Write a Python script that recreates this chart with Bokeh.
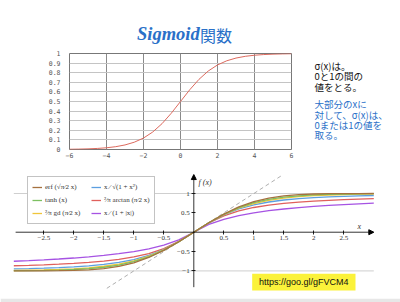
from bokeh.plotting import figure
from bokeh.layouts import column, row
from bokeh.models import (Range1d, FixedTicker, NumeralTickFormatter, Label, Legend,
                          LegendItem, Arrow, NormalHead, BoxAnnotation)
from bokeh.embed import file_html
from bokeh.resources import INLINE

# ---------------- data ----------------
# top chart: logistic sigmoid
sig_x = [-6, -5.5, -5, -4.5, -4, -3.5, -3, -2.5, -2, -1.5, -1, -0.5, 0,
         0.5, 1, 1.5, 2, 2.5, 3, 3.5, 4, 4.5, 5, 5.5, 6]
sig_y = [0.0025, 0.0041, 0.0067, 0.0110, 0.0180, 0.0293, 0.0474, 0.0759, 0.1192,
         0.1824, 0.2689, 0.3775, 0.5, 0.6225, 0.7311, 0.8176, 0.8808, 0.9241,
         0.9526, 0.9707, 0.9820, 0.9890, 0.9933, 0.9959, 0.9975]
sig_xticks = [-6, -4, -2, 0, 2, 4, 6]
sig_yticks = [0, 0.1, 0.2, 0.3, 0.4, 0.5, 0.6, 0.7, 0.8, 0.9, 1]

# bottom chart: comparison of sigmoid-like functions
cmp_x = [-3, -2.75, -2.5, -2.25, -2, -1.75, -1.5, -1.25, -1, -0.75, -0.5, -0.25, 0,
         0.25, 0.5, 0.75, 1, 1.25, 1.5, 1.75, 2, 2.25, 2.5, 2.75, 3]
erf_y = [-1.000, -0.999, -0.998, -0.995, -0.988, -0.972, -0.939, -0.883, -0.790,
         -0.653, -0.469, -0.246, 0, 0.246, 0.469, 0.653, 0.790, 0.883, 0.939,
         0.972, 0.988, 0.995, 0.998, 0.999, 1.000]
tanh_y = [-0.995, -0.992, -0.987, -0.978, -0.964, -0.941, -0.905, -0.848, -0.762,
          -0.635, -0.462, -0.245, 0, 0.245, 0.462, 0.635, 0.762, 0.848, 0.905,
          0.941, 0.964, 0.978, 0.987, 0.992, 0.995]
gd_y = [-0.989, -0.983, -0.975, -0.962, -0.945, -0.919, -0.880, -0.822, -0.739,
        -0.620, -0.455, -0.244, 0, 0.244, 0.455, 0.620, 0.739, 0.822, 0.880,
        0.919, 0.945, 0.962, 0.975, 0.983, 0.989]
alg_y = [-0.949, -0.940, -0.928, -0.914, -0.894, -0.868, -0.832, -0.781, -0.707,
         -0.600, -0.447, -0.243, 0, 0.243, 0.447, 0.600, 0.707, 0.781, 0.832,
         0.868, 0.894, 0.914, 0.928, 0.940, 0.949]
atan_y = [-0.867, -0.856, -0.842, -0.825, -0.804, -0.778, -0.745, -0.700, -0.639,
          -0.552, -0.424, -0.238, 0, 0.238, 0.424, 0.552, 0.639, 0.700, 0.745,
          0.778, 0.804, 0.825, 0.842, 0.856, 0.867]
abs_y = [-0.750, -0.733, -0.714, -0.692, -0.667, -0.636, -0.600, -0.556, -0.500,
         -0.429, -0.333, -0.200, 0, 0.200, 0.333, 0.429, 0.500, 0.556, 0.600,
         0.636, 0.667, 0.692, 0.714, 0.733, 0.750]
diag_x = [-1.45, 1.47]
diag_y = [-1.45, 1.47]
ref_levels = [-1, 1]
cmp_xticks = [-2.5, -2, -1.5, -1, -0.5, 0.5, 1, 1.5, 2, 2.5]
cmp_yticks = [-1, -0.5, 0.5, 1]

labels = {
    "erf": "erf (√π⁄2 x)",
    "tanh": "tanh (x)",
    "gd": "²⁄π gd (π⁄2 x)",
    "alg": "x ⁄ √(1 + x²)",
    "atan": "²⁄π arctan (π⁄2 x)",
    "abs": "x ⁄ (1 + |x|)",
}
colors = {
    "erf": "#a5713f", "tanh": "#7dc062", "gd": "#f0c53a",
    "alg": "#5c9fe0", "atan": "#e0605c", "abs": "#a653e3",
}

BLUE = "#2a70c8"
SERIF = "Liberation Serif"
JP = "Noto Sans CJK JP"


def blank(w, h, xr, yr):
    f = figure(width=w, height=h, x_range=Range1d(*xr), y_range=Range1d(*yr),
               x_axis_type=None, y_axis_type=None, toolbar_location=None,
               output_backend="svg", min_border=0)
    f.outline_line_color = None
    f.grid.visible = False
    return f


# ---------------- title ----------------
tfig = blank(400, 46, (0, 400), (46, 0))
tfig.add_layout(Label(x=136.5, y=33, text="Sigmoid", text_font=SERIF,
                      text_font_style="bold italic", text_font_size="18.5px",
                      text_color=BLUE, text_baseline="alphabetic", text_align="left"))
tfig.add_layout(Label(x=199.5, y=34, text="関数", text_font=JP,
                      text_font_size="16px", text_color=BLUE,
                      text_baseline="alphabetic", text_align="left"))

# ---------------- top sigmoid chart ----------------
p1 = figure(width=300, height=119, x_range=Range1d(-6, 6), y_range=Range1d(0, 1),
            toolbar_location=None, output_backend="svg",
            min_border_left=69, min_border_right=9, min_border_top=7,
            min_border_bottom=16)
p1.line(sig_x, sig_y, line_color="#dc6a5e", line_width=1)
p1.xaxis.ticker = FixedTicker(ticks=sig_xticks)
p1.yaxis.ticker = FixedTicker(ticks=sig_yticks)
p1.yaxis.formatter = NumeralTickFormatter(format="0.[0]")
p1.xgrid.ticker = FixedTicker(ticks=sig_xticks)
p1.ygrid.ticker = FixedTicker(ticks=sig_yticks)
p1.xgrid.grid_line_color = "#8a8a8a"
p1.ygrid.grid_line_color = "#c4c4c4"
p1.outline_line_color = "#777777"
for ax in (p1.xaxis[0], p1.yaxis[0]):
    ax.axis_line_color = None
    ax.major_tick_out = 0
    ax.major_tick_in = 0
    ax.minor_tick_line_color = None
    ax.major_label_text_font = "DejaVu Sans Mono"
    ax.major_label_text_font_size = "6.5px"
    ax.major_label_text_color = "#555555"
p1.yaxis.major_label_standoff = 9
p1.xaxis.major_label_standoff = 3

# ---------------- right side text ----------------
txt = blank(100, 119, (300, 400), (165, 46))
black_lines = ["σ(x)は。", "0と1の間の", "値をとる。"]
blue_lines = ["大部分のxに", "対して、σ(x)は、", "0または1の値を", "取る。"]
for i, s in enumerate(black_lines):
    txt.add_layout(Label(x=314, y=61 + 13 * i, text=s, text_font=JP,
                         text_font_size="9.5px", text_color="#111111",
                         text_baseline="middle", text_align="left"))
for i, s in enumerate(blue_lines):
    txt.add_layout(Label(x=314, y=109 + 12.7 * i, text=s, text_font=JP,
                         text_font_size="9.5px", text_color=BLUE,
                         text_baseline="middle", text_align="left"))

# ---------------- bottom comparison chart ----------------
p2 = figure(width=400, height=137, x_range=Range1d(-3.222, 3.445),
            y_range=Range1d(-1.713, 1.724), toolbar_location=None,
            output_backend="svg", min_border_left=0, min_border_right=0,
            min_border_top=0, min_border_bottom=4)
p2.border_fill_color = "#e7e7e7"
p2.background_fill_color = "white"
p2.outline_line_color = None
p2.grid.visible = False

p2.segment(x0=[cmp_x[0]] * 2, x1=[cmp_x[-1]] * 2, y0=ref_levels, y1=ref_levels,
           line_color="#cfcfcf", line_width=1)
p2.line(diag_x, diag_y, line_color="#9a9a9a", line_width=0.8, line_dash="4 3")

rs = {}
series = {"abs": abs_y, "atan": atan_y, "alg": alg_y, "gd": gd_y, "tanh": tanh_y, "erf": erf_y}
for key, ys in series.items():
    rs[key] = p2.line(cmp_x, ys, line_color=colors[key], line_width=1.3)

p2.add_layout(Arrow(end=NormalHead(size=5, fill_color="black", line_color="black"),
                    x_start=-2.97, y_start=0, x_end=3.0, y_end=0,
                    line_color="black", line_width=0.8))
p2.add_layout(Arrow(end=NormalHead(size=5, fill_color="black", line_color="black"),
                    x_start=0, y_start=-1.42, x_end=0, y_end=1.49,
                    line_color="black", line_width=0.8))

p2.xaxis.fixed_location = 0
p2.yaxis.fixed_location = 0
p2.xaxis.ticker = FixedTicker(ticks=cmp_xticks)
p2.yaxis.ticker = FixedTicker(ticks=cmp_yticks)
p2.xaxis.major_label_overrides = {t: (str(t).replace("-", "−")) for t in cmp_xticks}
p2.yaxis.major_label_overrides = {t: (str(t).replace("-", "−")) for t in cmp_yticks}
for ax in (p2.xaxis[0], p2.yaxis[0]):
    ax.axis_line_color = None
    ax.major_tick_in = 2
    ax.major_tick_out = 2
    ax.major_tick_line_color = "#222222"
    ax.minor_tick_line_color = None
    ax.major_label_text_font = SERIF
    ax.major_label_text_font_size = "7px"
    ax.major_label_text_color = "#333333"
    ax.major_label_standoff = 2

p2.add_layout(Label(x=2.73, y=0.04, text="x", text_font=SERIF, text_font_style="italic",
                    text_font_size="8px", text_color="#333333", text_baseline="bottom"))
p2.add_layout(Label(x=0.08, y=1.28, text="f (x)", text_font=SERIF, text_font_style="italic",
                    text_font_size="8px", text_color="#333333", text_baseline="middle"))

order = ["erf", "tanh", "gd", "alg", "atan", "abs"]
legend = Legend(items=[LegendItem(label=labels[k], renderers=[rs[k]]) for k in order],
                location=(27, 74), ncols=2, orientation="vertical",
                label_text_font=SERIF, label_text_font_size="7px",
                label_text_color="#333333", label_height=12, glyph_height=12,
                glyph_width=10, label_standoff=3, spacing=1, padding=4,
                label_width=45, border_line_color="#888888",
                background_fill_color="white", background_fill_alpha=1)
p2.add_layout(legend, "center")

p2.add_layout(BoxAnnotation(left=0.973, right=2.695, top=-1.075, bottom=-1.506,
                            fill_color="#fbf23a", fill_alpha=1, line_color=None))
p2.add_layout(Label(x=1.834, y=-1.29, text="https://goo.gl/gFVCM4",
                    text_font="Liberation Sans", text_font_size="9px",
                    text_color="#111111", text_align="center", text_baseline="middle"))

layout = column(tfig, row(p1, txt), p2)
open("out.html", "w").write(file_html(layout, INLINE))
